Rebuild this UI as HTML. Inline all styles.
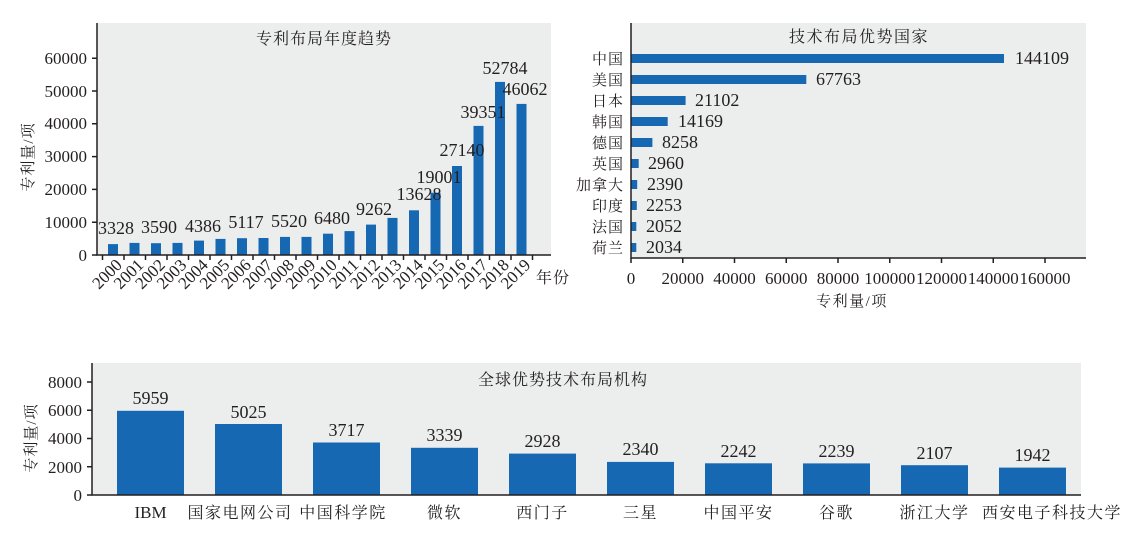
<!DOCTYPE html>
<html><head><meta charset="utf-8"><style>
html,body{margin:0;padding:0;background:#fff;}
svg{display:block;}
text{font-family:"Liberation Serif","Noto Serif CJK SC",serif;fill:#231f20;}
</style></head><body>
<svg width="1143" height="533" viewBox="0 0 1143 533" xmlns="http://www.w3.org/2000/svg">
<!-- Chart 1 -->
<rect x="97" y="23" width="454" height="232" fill="#eceded"/>
<text x="324" y="44" font-size="16" text-anchor="middle" letter-spacing="1">专利布局年度趋势</text>
<g fill="#1668b3">
<rect x="108" y="244.1" width="10" height="10.9"/>
<rect x="129.5" y="242.9" width="10" height="12.1"/>
<rect x="151" y="243.2" width="10" height="11.8"/>
<rect x="172.5" y="242.9" width="10" height="12.1"/>
<rect x="194" y="240.6" width="10" height="14.4"/>
<rect x="215.5" y="238.9" width="10" height="16.1"/>
<rect x="237" y="238.2" width="10" height="16.8"/>
<rect x="258.5" y="238" width="10" height="17"/>
<rect x="280" y="236.9" width="10" height="18.1"/>
<rect x="301.5" y="236.9" width="10" height="18.1"/>
<rect x="323" y="233.7" width="10" height="21.3"/>
<rect x="344.5" y="231.1" width="10" height="23.9"/>
<rect x="366" y="224.6" width="10" height="30.4"/>
<rect x="387.5" y="217.9" width="10" height="37.1"/>
<rect x="409" y="210.3" width="10" height="44.7"/>
<rect x="430.5" y="192.7" width="10" height="62.3"/>
<rect x="452" y="166" width="10" height="89"/>
<rect x="473.5" y="125.9" width="10" height="129.1"/>
<rect x="495" y="81.9" width="10" height="173.1"/>
<rect x="516.5" y="103.9" width="10" height="151.1"/>
</g>
<g font-size="18" text-anchor="middle">
<text x="116" y="234">3328</text><text x="159" y="233">3590</text><text x="203" y="232">4386</text>
<text x="246" y="228">5117</text><text x="289" y="227">5520</text><text x="332" y="224">6480</text>
<text x="374" y="215">9262</text><text x="419" y="200">13628</text><text x="439" y="183">19001</text>
<text x="462" y="156">27140</text><text x="483" y="118">39351</text><text x="505" y="74">52784</text>
<text x="525" y="95">46062</text>
</g>
<g stroke="#231f20" stroke-width="1.5" fill="none">
<path d="M97 23V255H551"/>
<path d="M92 255h5M92 222.2h5M92 189.4h5M92 156.6h5M92 123.8h5M92 91h5M92 58.2h5"/>
<path d="M102.5 255v5M124 255v5M145.5 255v5M167 255v5M188.5 255v5M210 255v5M231.5 255v5M253 255v5M274.5 255v5M296 255v5M317.5 255v5M339 255v5M360.5 255v5M382 255v5M403.5 255v5M425 255v5M446.5 255v5M468 255v5M489.5 255v5M511 255v5M532.5 255v5"/>
</g>
<g font-size="17" text-anchor="end">
<text x="87" y="261">0</text><text x="87" y="228">10000</text><text x="87" y="195">20000</text>
<text x="87" y="162">30000</text><text x="87" y="129">40000</text><text x="87" y="97">50000</text><text x="87" y="64">60000</text>
</g>
<text transform="translate(33,157) rotate(-90)" font-size="15" text-anchor="middle" letter-spacing="1">专利量/项</text>
<g font-size="17" text-anchor="end">
<text transform="translate(123,266) rotate(-45)">2000</text>
<text transform="translate(144.5,266) rotate(-45)">2001</text>
<text transform="translate(166,266) rotate(-45)">2002</text>
<text transform="translate(187.5,266) rotate(-45)">2003</text>
<text transform="translate(209,266) rotate(-45)">2004</text>
<text transform="translate(230.5,266) rotate(-45)">2005</text>
<text transform="translate(252,266) rotate(-45)">2006</text>
<text transform="translate(273.5,266) rotate(-45)">2007</text>
<text transform="translate(295,266) rotate(-45)">2008</text>
<text transform="translate(316.5,266) rotate(-45)">2009</text>
<text transform="translate(338,266) rotate(-45)">2010</text>
<text transform="translate(359.5,266) rotate(-45)">2011</text>
<text transform="translate(381,266) rotate(-45)">2012</text>
<text transform="translate(402.5,266) rotate(-45)">2013</text>
<text transform="translate(424,266) rotate(-45)">2014</text>
<text transform="translate(445.5,266) rotate(-45)">2015</text>
<text transform="translate(467,266) rotate(-45)">2016</text>
<text transform="translate(488.5,266) rotate(-45)">2017</text>
<text transform="translate(510,266) rotate(-45)">2018</text>
<text transform="translate(531.5,266) rotate(-45)">2019</text>
</g>
<text x="536" y="283" font-size="16" letter-spacing="1">年份</text>

<!-- Chart 2 -->
<rect x="631" y="23" width="455" height="235" fill="#eceded"/>
<text x="859" y="42" font-size="16" text-anchor="middle" letter-spacing="1.5">技术布局优势国家</text>
<g fill="#1668b3">
<rect x="631" y="54" width="373" height="9"/>
<rect x="631" y="75" width="175.3" height="9"/>
<rect x="631" y="96" width="54.6" height="9"/>
<rect x="631" y="117" width="36.7" height="9"/>
<rect x="631" y="138" width="21.4" height="9"/>
<rect x="631" y="159" width="7.7" height="9"/>
<rect x="631" y="180" width="6.2" height="9"/>
<rect x="631" y="201" width="5.8" height="9"/>
<rect x="631" y="222" width="5.3" height="9"/>
<rect x="631" y="243" width="5.3" height="9"/>
</g>
<g font-size="18">
<text x="1015" y="64">144109</text><text x="816" y="85">67763</text><text x="695" y="106">21102</text>
<text x="678" y="127">14169</text><text x="662" y="148">8258</text><text x="648" y="169">2960</text>
<text x="647" y="190">2390</text><text x="646" y="211">2253</text><text x="646" y="232">2052</text><text x="646" y="253">2034</text>
</g>
<g font-size="15" text-anchor="end" letter-spacing="1">
<text x="624" y="64">中国</text><text x="624" y="85">美国</text><text x="624" y="106">日本</text>
<text x="624" y="127">韩国</text><text x="624" y="148">德国</text><text x="624" y="169">英国</text>
<text x="624" y="190">加拿大</text><text x="624" y="211">印度</text><text x="624" y="232">法国</text><text x="624" y="253">荷兰</text>
</g>
<g stroke="#231f20" stroke-width="1.5" fill="none">
<path d="M631 23V258H1086"/>
<path d="M631 258v5M682.75 258v5M734.5 258v5M786.25 258v5M838 258v5M889.75 258v5M941.5 258v5M993.25 258v5M1045 258v5"/>
</g>
<g font-size="17" text-anchor="middle">
<text x="631" y="284">0</text><text x="682.75" y="284">20000</text><text x="734.5" y="284">40000</text>
<text x="786.25" y="284">60000</text><text x="838" y="284">80000</text><text x="889.75" y="284">100000</text>
<text x="941.5" y="284">120000</text><text x="993.25" y="284">140000</text><text x="1045" y="284">160000</text>
</g>
<text x="852" y="306" font-size="15" text-anchor="middle" letter-spacing="1.5">专利量/项</text>

<!-- Chart 3 -->
<rect x="92" y="363" width="989" height="132" fill="#eceded"/>
<text x="563" y="385" font-size="16" text-anchor="middle" letter-spacing="1">全球优势技术布局机构</text>
<g fill="#1668b3">
<rect x="117" y="410.8" width="67" height="84.2"/>
<rect x="215" y="424" width="67" height="71"/>
<rect x="313" y="442.5" width="67" height="52.5"/>
<rect x="411" y="447.8" width="67" height="47.2"/>
<rect x="509" y="453.6" width="67" height="41.4"/>
<rect x="607" y="461.9" width="67" height="33.1"/>
<rect x="705" y="463.3" width="67" height="31.7"/>
<rect x="803" y="463.4" width="67" height="31.6"/>
<rect x="901" y="465.2" width="67" height="29.8"/>
<rect x="999" y="467.6" width="67" height="27.4"/>
</g>
<g font-size="18" text-anchor="middle">
<text x="150.5" y="404">5959</text><text x="248.5" y="418">5025</text><text x="346.5" y="436">3717</text>
<text x="444.5" y="441">3339</text><text x="542.5" y="447">2928</text><text x="640.5" y="455">2340</text>
<text x="738.5" y="457">2242</text><text x="836.5" y="457">2239</text><text x="934.5" y="459">2107</text><text x="1032.5" y="461">1942</text>
</g>
<g stroke="#231f20" stroke-width="1.5" fill="none">
<path d="M92 363V495H1081"/>
<path d="M87 495h5M87 466.75h5M87 438.5h5M87 410.25h5M87 382h5"/>
</g>
<g font-size="17" text-anchor="end">
<text x="82" y="501">0</text><text x="82" y="473">2000</text><text x="82" y="444">4000</text>
<text x="82" y="416">6000</text><text x="82" y="388">8000</text>
</g>
<text transform="translate(36,438) rotate(-90)" font-size="15" text-anchor="middle" letter-spacing="1">专利量/项</text>
<text x="150.5" y="518" font-size="17" text-anchor="middle">IBM</text>
<g font-size="16" text-anchor="middle" letter-spacing="1.5">
<text x="240" y="518">国家电网公司</text><text x="343" y="518">中国科学院</text>
<text x="444.5" y="518">微软</text><text x="542.5" y="518">西门子</text><text x="640.5" y="518">三星</text>
<text x="738.5" y="518">中国平安</text><text x="836.5" y="518">谷歌</text><text x="934.5" y="518">浙江大学</text><text x="1052" y="518">西安电子科技大学</text>
</g>
</svg>
</body></html>
